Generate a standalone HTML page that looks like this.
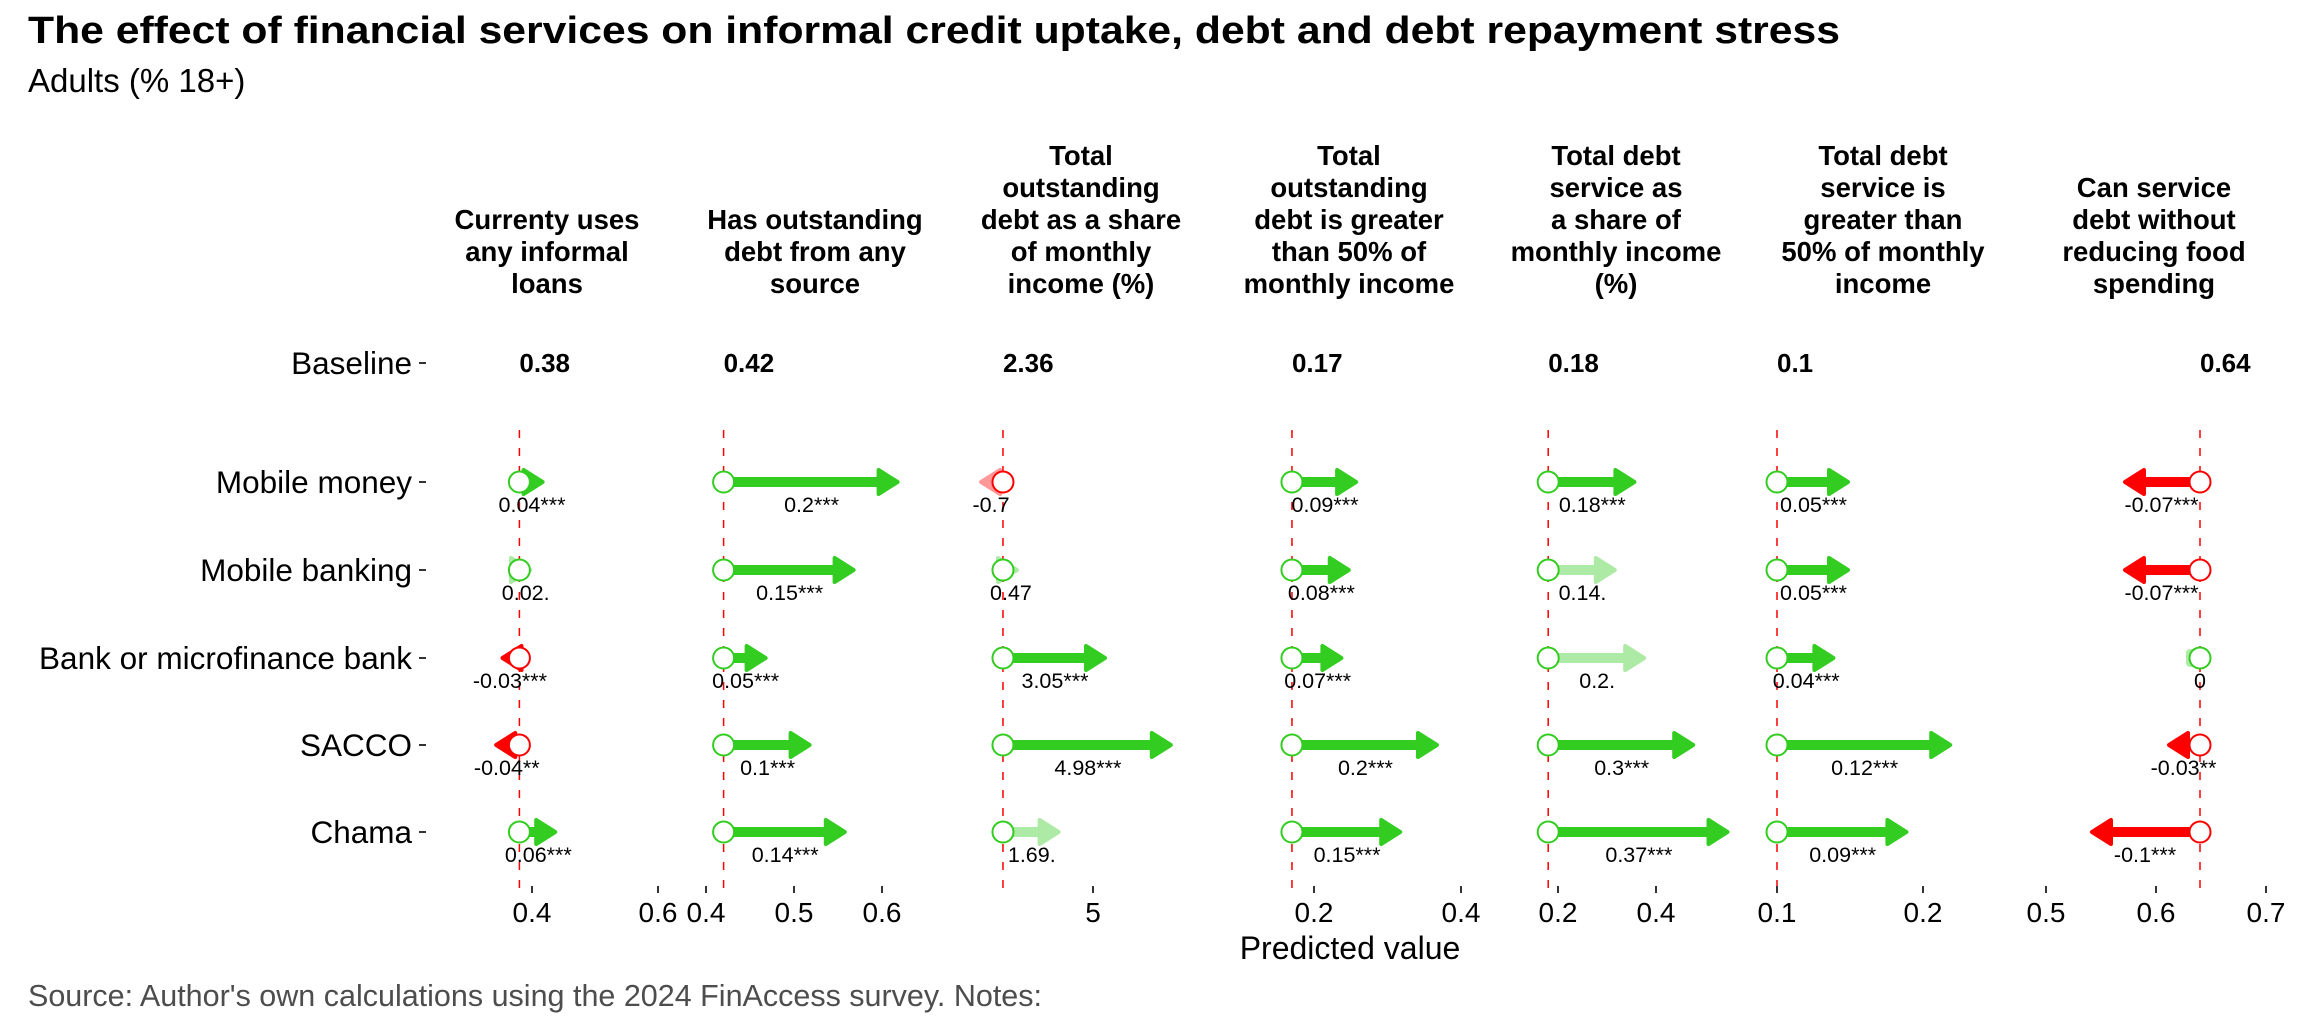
<!DOCTYPE html>
<html><head><meta charset="utf-8"><style>
html,body{margin:0;padding:0;background:#fff;}
svg{display:block;font-family:"Liberation Sans",Arial,sans-serif;}
</style></head><body>
<svg id="chart" width="2304" height="1036" viewBox="0 0 2304 1036" xmlns="http://www.w3.org/2000/svg">
<rect width="2304" height="1036" fill="#fff"/>
<text x="28" y="43" font-size="38" font-weight="bold" fill="#000" textLength="1812" lengthAdjust="spacingAndGlyphs">The effect of financial services on informal credit uptake, debt and debt repayment stress</text>
<text x="28" y="92" font-size="33" fill="#000">Adults (% 18+)</text>
<text x="1350" y="959" font-size="32" text-anchor="middle" fill="#000">Predicted value</text>
<text x="28" y="1006" font-size="30.5" fill="#4d4d4d">Source: Author's own calculations using the 2024 FinAccess survey. Notes:</text>
</svg>
<script>
const rowNames = ["Baseline","Mobile money","Mobile banking","Bank or microfinance bank","SACCO","Chama"];
const panelTitles = [
 ["Currenty uses","any informal","loans"],
 ["Has outstanding","debt from any","source"],
 ["Total","outstanding","debt as a share","of monthly","income (%)"],
 ["Total","outstanding","debt is greater","than 50% of","monthly income"],
 ["Total debt","service as","a share of","monthly income","(%)"],
 ["Total debt","service is","greater than","50% of monthly","income"],
 ["Can service","debt without","reducing food","spending"]
];
const baselines = [0.38,0.42,2.36,0.17,0.18,0.1,0.64];
const effects1 = [0.04,0.02,-0.03,-0.04,0.06];
const effects2 = [0.2,0.15,0.05,0.1,0.14];
const effects3 = [-0.7,0.47,3.05,4.98,1.69];
const effects4 = [0.09,0.08,0.07,0.2,0.15];
const effects5 = [0.18,0.14,0.2,0.3,0.37];
const effects6 = [0.05,0.05,0.04,0.12,0.09];
const effects7 = [-0.07,-0.07,0,-0.03,-0.1];
const stars1 = ["***",".","***","**","***"];
const stars2 = ["***","***","***","***","***"];
const stars3 = ["","","***","***","."];
const stars4 = ["***","***","***","***","***"];
const stars5 = ["***",".",".","***","***"];
const stars6 = ["***","***","***","***","***"];
const stars7 = ["***","***","","**","***"];
const ticks1 = [0.4,0.6];
const ticks2 = [0.4,0.5,0.6];
const ticks3 = [5];
const ticks4 = [0.2,0.4];
const ticks5 = [0.2,0.4];
const ticks6 = [0.1,0.2];
const ticks7 = [0.5,0.6,0.7];

const effects=[effects1,effects2,effects3,effects4,effects5,effects6,effects7];
const stars=[stars1,stars2,stars3,stars4,stars5,stars6,stars7];
const ticks=[ticks1,ticks2,ticks3,ticks4,ticks5,ticks6,ticks7];
const anchors=[[0.4,532,630],[0.4,706,880],[5,1093,34.1],[0.2,1314,735],[0.2,1558,490],[0.1,1777,1460],[0.6,2156,1100]];
const centers=[547,815,1081,1349,1616,1883,2154];
function xs(p,v){const a=anchors[p];return a[1]+(v-a[0])*a[2];}
const rowY=[363,482,570,658,745,832];
const NS="http://www.w3.org/2000/svg";
const svg=document.getElementById('chart');
function mk(tag,attrs,parent){const e=document.createElementNS(NS,tag);for(const k in attrs)e.setAttribute(k,attrs[k]);(parent||svg).appendChild(e);return e;}
const GREEN="#32CD20",RED="#FF0000";

rowNames.forEach((r,i)=>{
 const t=mk('text',{x:412,y:rowY[i]+11,'font-size':31.5,'text-anchor':'end',fill:'#000'});
 t.textContent=r;
 
 
 const tk=mk('line',{x1:419,x2:426,y1:rowY[i],y2:rowY[i],stroke:'#333','stroke-width':2});
 
 
});

for(let p=0;p<7;p++){
 const g=mk('g',{});
 
 
 const lines=panelTitles[p];
 lines.forEach((l,j)=>{
  const t=mk('text',{x:centers[p],y:293-(lines.length-1-j)*32,'font-size':27.5,'font-weight':'bold','text-anchor':'middle',fill:'#000'},g);
  t.textContent=l;
  
  
 });
 const bx=xs(p,baselines[p]);
 const bt=mk('text',{x:bx,y:372,'font-size':26,'font-weight':'bold',fill:'#000'},g);
 bt.textContent=String(baselines[p]);
 
 
 const dl=mk('line',{x1:bx,x2:bx,y1:430,y2:892,stroke:RED,'stroke-width':1.5,'stroke-dasharray':'8,10'},g);
 
 
 ticks[p].forEach(v=>{
  const tx=xs(p,v);
  const tl=mk('line',{x1:tx,x2:tx,y1:886,y2:893,stroke:'#333','stroke-width':2},g);
  
  
  const tt=mk('text',{x:tx,y:922,'font-size':28,'text-anchor':'middle',fill:'#000'},g);
  tt.textContent=String(v);
  
  
 });
 effects[p].forEach((e,r)=>{
  const y=rowY[r+1];
  const x0=bx,x1=xs(p,baselines[p]+e);
  const col=e<0?RED:GREEN;
  const op=stars[p][r]===""||stars[p][r]==="."?0.4:1;
  const ag=mk('g',{opacity:op},g);
  
  
  const dir=e<0?-1:1;
  if(e!==0){
   const tip=x1-dir*2;
   const base=tip-dir*19;
   if((base-x0)*dir>0) mk('line',{x1:x0,x2:base+dir*2,y1:y,y2:y,stroke:col,'stroke-width':10},ag);
   mk('polygon',{points:`${tip},${y} ${base},${y-12} ${base},${y+12}`,fill:col,stroke:col,'stroke-width':4,'stroke-linejoin':'round'},ag);
  } else {
   mk('rect',{x:x0-14,y:y-9,width:14,height:18,fill:GREEN,rx:4},ag);
  }
  const c=mk('circle',{cx:x0,cy:y,r:10.5,fill:'#fff',stroke:col,'stroke-width':2},g);
  
  
  const lb=mk('text',{x:(x0+x1)/2,y:y+30,'font-size':21.5,'text-anchor':'middle',fill:'#000'},g);
  lb.textContent=String(e)+stars[p][r];
  
  
 });
}
</script>
</body></html>
